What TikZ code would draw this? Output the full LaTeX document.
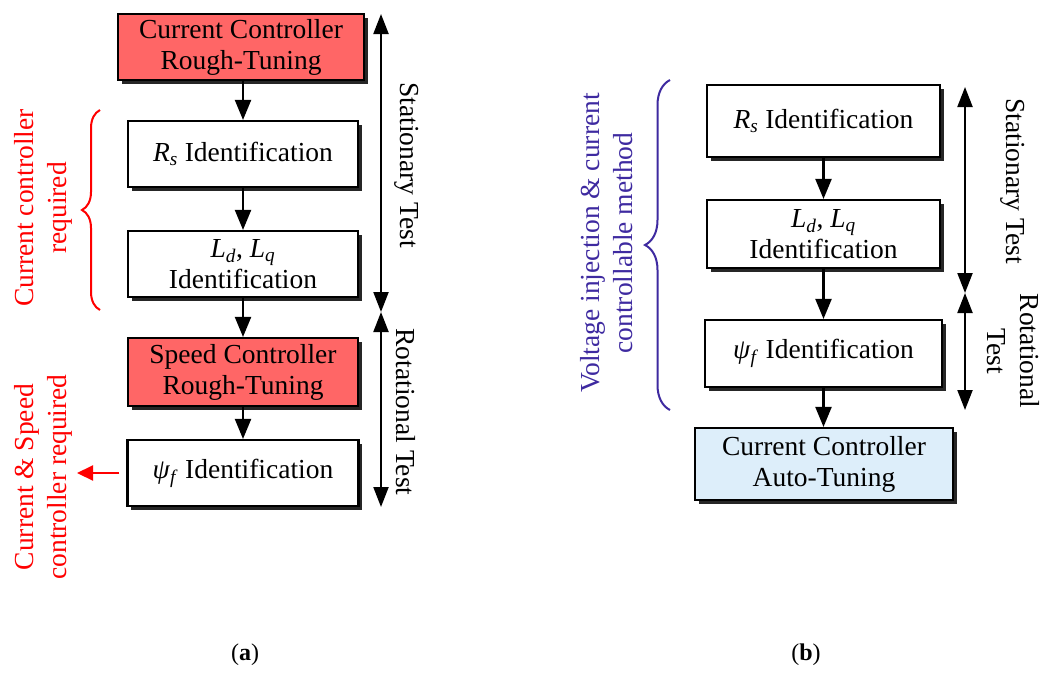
\documentclass[tikz,border=0pt]{standalone}
\usepackage{fontspec}
\setmainfont{Liberation Serif}
\usetikzlibrary{arrows.meta,shadows,decorations.pathreplacing}
\definecolor{boxred}{RGB}{255,102,102}
\definecolor{boxblue}{RGB}{221,238,250}
\definecolor{braceblue}{RGB}{62,42,160}
\begin{document}
\begin{tikzpicture}[x=1pt,y=1pt,
  blk/.style={draw=black, line width=2.1pt, fill=white, align=center, inner sep=0pt,
    font=\fontsize{27.5}{31}\selectfont,
    drop shadow={shadow xshift=3.5pt, shadow yshift=-3.5pt, fill=black!85, opacity=1}},
  redblk/.style={blk, fill=boxred},
  blueblk/.style={blk, fill=boxblue},
  arr/.style={line width=2.1pt, -{Triangle[length=20pt,width=16pt]}},
  darr/.style={line width=2.1pt, {Triangle[length=20pt,width=15pt]}-{Triangle[length=20pt,width=15pt]}},
  lbl/.style={font=\fontsize{27.5}{33}\selectfont, align=center},
  captxt/.style={font=\fontsize{24}{28}\selectfont}
]
\useasboundingbox (0,0) rectangle (1043,-672);

% ---------- (a) ----------
\node[redblk, minimum width=246pt, minimum height=66pt] (c1) at (241,-47) {Current Controller\\Rough-Tuning};
\node[blk, minimum width=230pt, minimum height=66pt] (c2) at (243,-154) {\textit{R}\textsubscript{\textit{s}} Identification};
\node[blk, minimum width=230pt, minimum height=66pt] (c3) at (243,-264) {\textit{L}\textsubscript{\textit{d}}, \textit{L}\textsubscript{\textit{q}}\\Identification};
\node[redblk, minimum width=230pt, minimum height=68pt] (c4) at (243,-372) {Speed Controller\\Rough-Tuning};
\node[blk, minimum width=231pt, minimum height=66pt] (c5) at (243,-473) {\textit{ψ}\textsubscript{\textit{f}} Identification};

\draw[arr] ([xshift=2pt]c1.south) -- (c2.north);
\draw[arr] (c2.south) -- (c3.north);
\draw[arr] (c3.south) -- (c4.north);
\draw[arr] (c4.south) -- (c5.north);

\coordinate (sa) at (381,-14);
\coordinate (sm) at (381,-312);
\coordinate (sb) at (381,-507);
\draw[darr] (sa) -- (sm);
\draw[darr] (sm) -- (sb);
\node[lbl, rotate=-90] (stA) at (407,-165) {Stationary Test};
\node[lbl, rotate=-90] (rtA) at (406,-412) {Rotational Test};

\draw[red, line width=2pt, decorate, decoration={brace, amplitude=18pt}] (100,-310) -- (100,-110);
\node[lbl, red, rotate=90] (ccr) at (43,-208) {Current controller\\required};

\coordinate (redtip) at (77,-473);
\draw[red, line width=2.1pt, -{Triangle[length=16pt,width=15pt]}] ([xshift=-7pt]c5.west) -- (redtip);
\node[lbl, red, rotate=90] (csr) at (43,-477) {Current \& Speed\\controller required};

\node[captxt] (capa) at (245,-655) {(\textbf{a})};

% ---------- (b) ----------
\node[blk, minimum width=233pt, minimum height=72pt] (r1) at (823.5,-121) {\textit{R}\textsubscript{\textit{s}} Identification};
\node[blk, minimum width=233pt, minimum height=68pt] (r2) at (823.5,-234) {\textit{L}\textsubscript{\textit{d}}, \textit{L}\textsubscript{\textit{q}}\\Identification};
\node[blk, minimum width=237pt, minimum height=67pt] (r3) at (823.5,-353.5) {\textit{ψ}\textsubscript{\textit{f}} Identification};
\node[blueblk, minimum width=258pt, minimum height=72pt] (r4) at (824,-464) {Current Controller\\Auto-Tuning};

\draw[arr] (r1.south) -- (r2.north);
\draw[arr] (r2.south) -- (r3.north);
\draw[arr] (r3.south) -- ([xshift=-0.5pt]r4.north);

\coordinate (ta) at (965,-87);
\coordinate (tm) at (965,-293);
\coordinate (tb) at (965,-410);
\draw[darr] (ta) -- (tm);
\draw[darr] (tm) -- (tb);
\node[lbl, rotate=-90] (stB) at (1013,-181) {Stationary Test};
\node[lbl, rotate=-90] (rtB) at (1013,-351) {Rotational\\Test};

\draw[braceblue, line width=2pt, decorate, decoration={brace, amplitude=25pt}] (670,-410) -- (670,-80);
\node[lbl, braceblue, rotate=90] (vic) at (607,-243) {Voltage injection \& current\\controllable method};

\node[captxt] (capb) at (806,-655) {(\textbf{b})};
\end{tikzpicture}
\end{document}
